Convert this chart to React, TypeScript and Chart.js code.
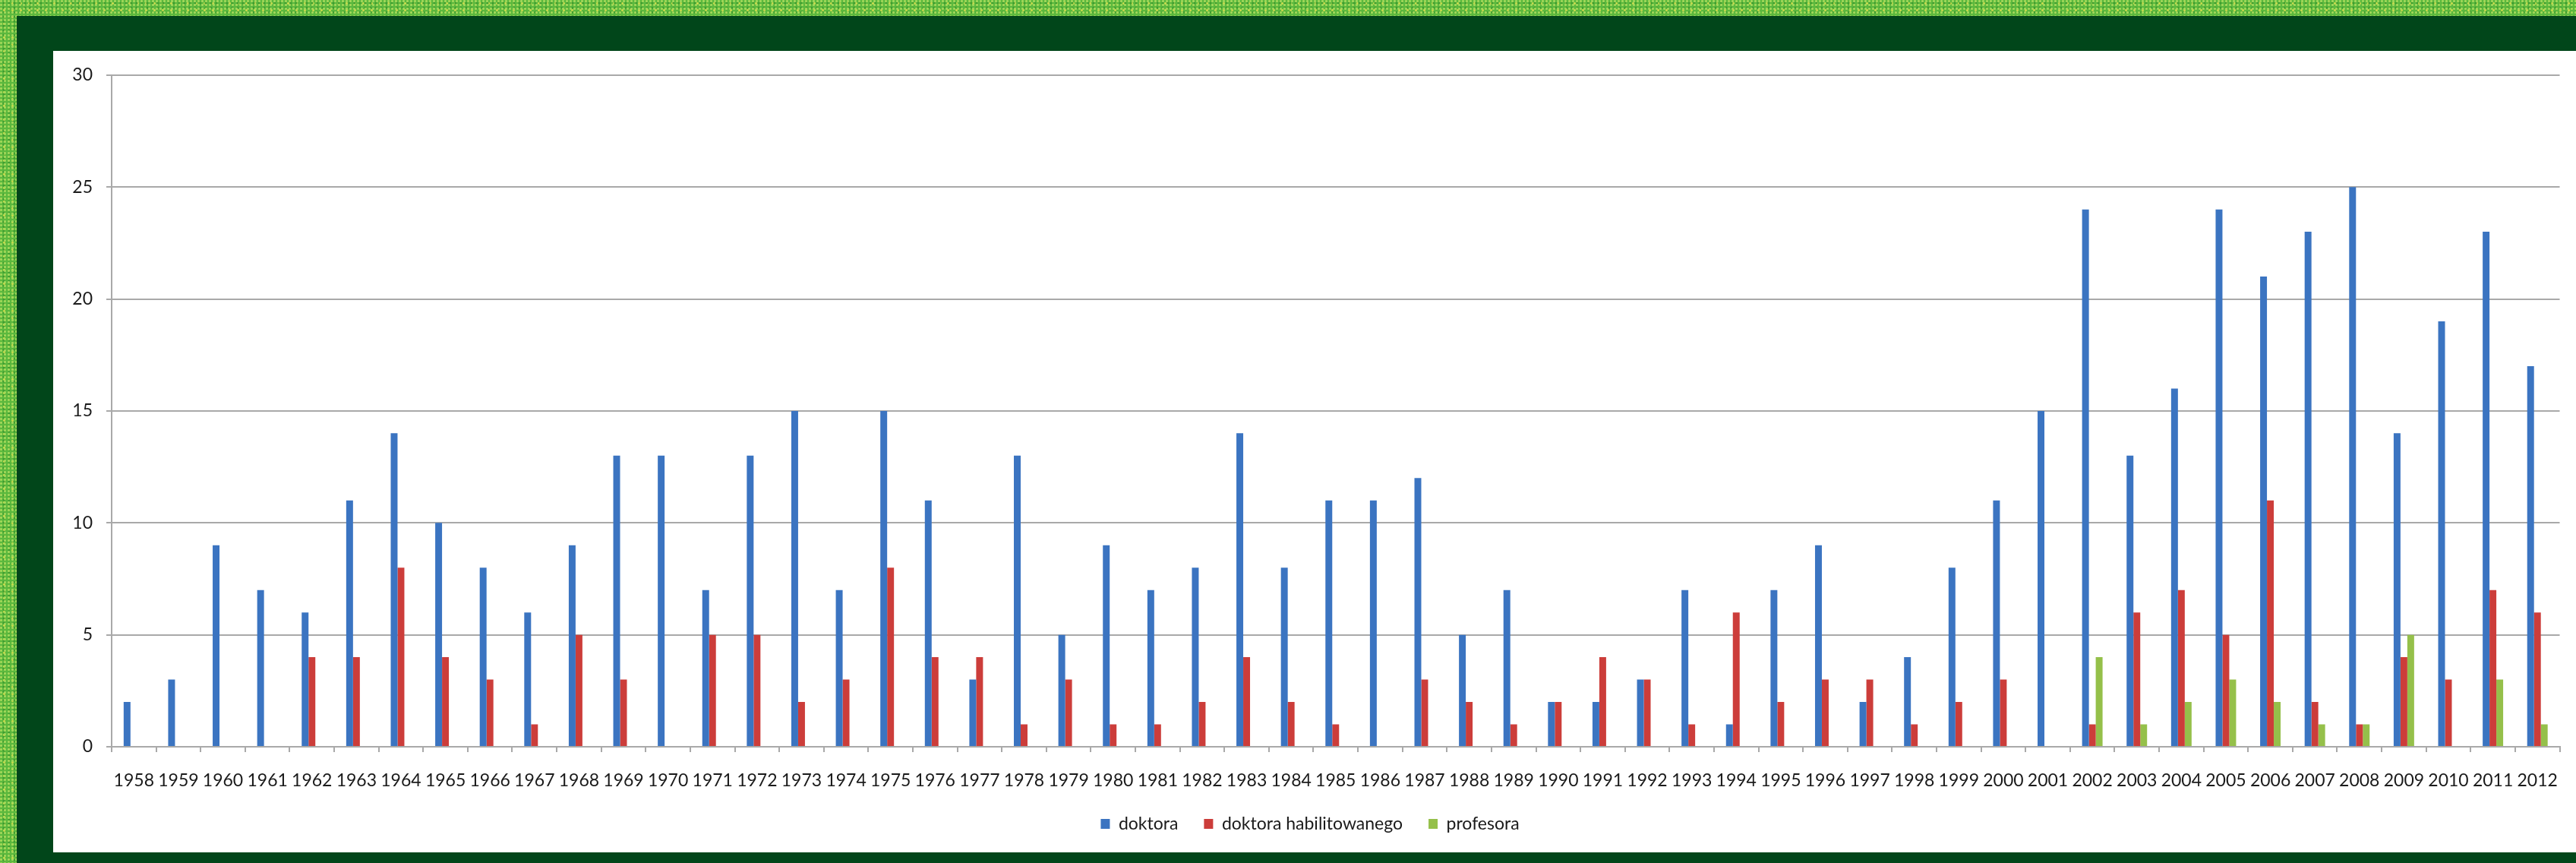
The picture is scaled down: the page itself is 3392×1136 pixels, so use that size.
import React, { useEffect, useRef } from "react";
import { Chart, registerables } from "chart.js";

Chart.register(...registerables);

const years = [
  "1958", "1959", "1960", "1961", "1962", "1963", "1964", "1965", "1966", "1967",
  "1968", "1969", "1970", "1971", "1972", "1973", "1974", "1975", "1976", "1977",
  "1978", "1979", "1980", "1981", "1982", "1983", "1984", "1985", "1986", "1987",
  "1988", "1989", "1990", "1991", "1992", "1993", "1994", "1995", "1996", "1997",
  "1998", "1999", "2000", "2001", "2002", "2003", "2004", "2005", "2006", "2007",
  "2008", "2009", "2010", "2011", "2012",
];

const doktora = [
  2, 3, 9, 7, 6, 11, 14, 10, 8, 6,
  9, 13, 13, 7, 13, 15, 7, 15, 11, 3,
  13, 5, 9, 7, 8, 14, 8, 11, 11, 12,
  5, 7, 2, 2, 3, 7, 1, 7, 9, 2,
  4, 8, 11, 15, 24, 13, 16, 24, 21, 23,
  25, 14, 19, 23, 17,
];

const doktoraHabilitowanego = [
  0, 0, 0, 0, 4, 4, 8, 4, 3, 1,
  5, 3, 0, 5, 5, 2, 3, 8, 4, 4,
  1, 3, 1, 1, 2, 4, 2, 1, 0, 3,
  2, 1, 2, 4, 3, 1, 6, 2, 3, 3,
  1, 2, 3, 0, 1, 6, 7, 5, 11, 2,
  1, 4, 3, 7, 6,
];

const profesora = [
  0, 0, 0, 0, 0, 0, 0, 0, 0, 0,
  0, 0, 0, 0, 0, 0, 0, 0, 0, 0,
  0, 0, 0, 0, 0, 0, 0, 0, 0, 0,
  0, 0, 0, 0, 0, 0, 0, 0, 0, 0,
  0, 0, 0, 0, 4, 1, 2, 3, 2, 1,
  1, 5, 0, 3, 1,
];

const seriesNames = ["doktora", "doktora habilitowanego", "profesora"];
const yMin = 0;
const yMax = 30;
const yStep = 5;

const FONT = "Lato, 'Open Sans', sans-serif";
const GRID = "#a9a9a9";
const TEXT = "#1a1a1a";

export default function App() {
  const canvasRef = useRef<HTMLCanvasElement | null>(null);

  useEffect(() => {
    const canvas = canvasRef.current;
    if (!canvas) return;
    const chart = new Chart(canvas, {
      type: "bar",
      data: {
        labels: years,
        datasets: [
          { label: seriesNames[0], data: doktora, backgroundColor: "#3b74c1", borderWidth: 0 },
          { label: seriesNames[1], data: doktoraHabilitowanego, backgroundColor: "#cc3d3a", borderWidth: 0 },
          { label: seriesNames[2], data: profesora, backgroundColor: "#95c04a", borderWidth: 0 },
        ],
      },
      options: {
        responsive: false,
        animation: false,
        devicePixelRatio: 1,
        datasets: { bar: { categoryPercentage: 0.46, barPercentage: 1.0 } },
        layout: { padding: { top: 28, right: 12, bottom: 16, left: 0 } },
        plugins: {
          title: { display: false },
          tooltip: { enabled: false },
          legend: {
            position: "bottom",
            labels: {
              boxWidth: 12,
              boxHeight: 13,
              padding: 34,
              color: TEXT,
              font: { family: FONT, size: 23 },
            },
          },
        },
        scales: {
          x: {
            grid: {
              display: true,
              drawOnChartArea: false,
              drawTicks: true,
              tickLength: 7,
              color: GRID,
              lineWidth: 2,
              offset: true,
            },
            border: { display: true, color: GRID, width: 2 },
            ticks: {
              color: TEXT,
              font: { family: FONT, size: 23 },
              padding: 24,
              maxRotation: 0,
              minRotation: 0,
              autoSkip: false,
            },
            afterFit: (s: any) => {
              s.height = 56;
            },
          },
          y: {
            min: yMin,
            max: yMax,
            ticks: {
              stepSize: yStep,
              color: TEXT,
              font: { family: FONT, size: 23 },
              padding: 18,
            },
            grid: { color: GRID, lineWidth: 2, drawTicks: true, tickLength: 7 },
            border: { display: true, color: GRID, width: 2 },
            afterFit: (s: any) => {
              s.width = 77;
            },
          },
        },
      },
    });
    return () => chart.destroy();
  }, []);

  return (
    <div
      style={{
        position: "absolute",
        left: 0,
        top: 0,
        width: 3392,
        height: 1136,
        overflow: "hidden",
        backgroundColor: "#5cb93e",
        backgroundImage:
          "radial-gradient(circle at 30% 30%, #a3d85a 0 1px, transparent 2px), radial-gradient(circle at 70% 70%, #3f9c30 0 1px, transparent 2px), radial-gradient(circle at 50% 50%, #c9da4c 0 1px, transparent 2px)",
        backgroundSize: "5px 5px, 7px 6px, 11px 9px",
      }}
    >
      <div
        style={{
          position: "absolute",
          left: 22,
          top: 21,
          width: 3370,
          height: 1115,
          background: "#01461a",
        }}
      />
      <div
        style={{
          position: "absolute",
          left: 70,
          top: 67,
          width: 3322,
          height: 1055,
          background: "#ffffff",
        }}
      >
        <canvas ref={canvasRef} width={3322} height={1055} style={{ display: "block", width: 3322, height: 1055 }} />
      </div>
    </div>
  );
}
